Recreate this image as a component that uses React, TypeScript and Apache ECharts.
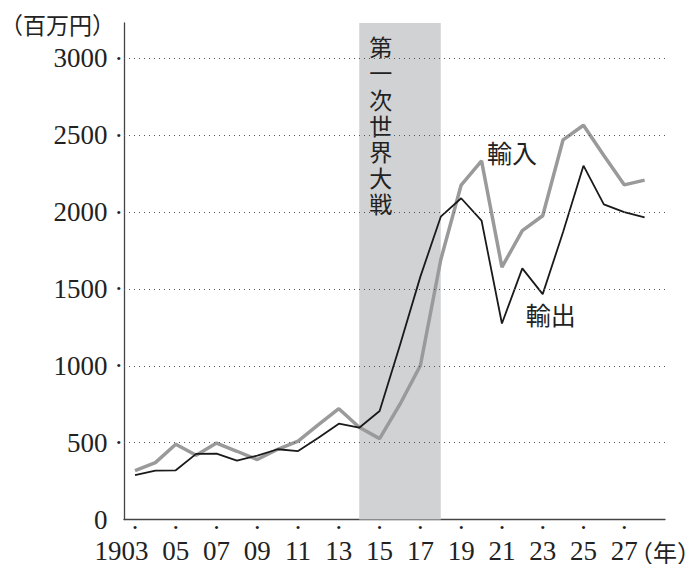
import { useEffect, useRef } from 'react';
import * as echarts from 'echarts';

const years = [1903, 1904, 1905, 1906, 1907, 1908, 1909, 1910, 1911, 1912, 1913, 1914, 1915, 1916, 1917, 1918, 1919, 1920, 1921, 1922, 1923, 1924, 1925, 1926, 1927, 1928];
const exportsVals = [288, 318, 320, 427, 428, 383, 416, 457, 445, 532, 623, 597, 706, 1135, 1580, 1970, 2090, 1945, 1275, 1634, 1466, 1870, 2302, 2050, 2000, 1966];
const importsVals = [318, 370, 490, 418, 497, 444, 390, 457, 510, 617, 721, 600, 526, 750, 1002, 1690, 2176, 2333, 1642, 1879, 1976, 2470, 2565, 2368, 2177, 2208];
const yTicks = [0, 500, 1000, 1500, 2000, 2500, 3000];
const xTicks = [1905, 1907, 1909, 1911, 1913, 1915, 1917, 1919, 1921, 1923, 1925, 1927];
const xFirstTick = [1903];
const warRange = [1914, 1918];
const warLabel = '第一次世界大戦';
const importsName = '輸入';
const exportsName = '輸出';
const yUnit = '（百万円）';
const xUnit = '（年）';

const NUM_FONT = "'Liberation Serif', 'Noto Sans CJK JP', serif";
const CJK_FONT = "'Noto Sans CJK JP', sans-serif";

const xRich = {
  d: { fontSize: 13, lineHeight: 10, color: '#222', fontFamily: NUM_FONT },
  n: { fontSize: 27, lineHeight: 36, color: '#222', fontFamily: NUM_FONT },
  f: { fontSize: 27, lineHeight: 36, color: '#222', fontFamily: NUM_FONT, padding: [0, 27, 0, 0] },
};

export default function App() {
  const ref = useRef<HTMLDivElement>(null);
  useEffect(() => {
    if (!ref.current) return;
    const chart = echarts.init(ref.current, null, { renderer: 'svg' });
    chart.setOption({
      animation: false,
      backgroundColor: '#ffffff',
      grid: { left: 124, right: 32, top: 23, bottom: 43, containLabel: false },
      xAxis: [
        {
          type: 'value',
          min: 1902.46,
          max: 1929,
          axisLine: { show: true, lineStyle: { color: '#444', width: 1.3 } },
          axisTick: { show: false },
          splitLine: { show: false },
          axisLabel: {
            customValues: xTicks,
            showMinLabel: true,
            showMaxLabel: true,
            margin: 3,
            formatter: (v: number) => `{d|•}\n{n|${String(v).slice(2)}}`,
            rich: xRich,
          },
        },
        {
          type: 'value',
          position: 'bottom',
          min: 1902.46,
          max: 1929,
          axisLine: { show: false },
          axisTick: { show: false },
          splitLine: { show: false },
          axisLabel: {
            customValues: xFirstTick,
            showMinLabel: true,
            showMaxLabel: true,
            margin: 3,
            formatter: (v: number) => `{d|•}\n{f|${v}}`,
            rich: xRich,
          },
        },
      ],
      yAxis: {
        type: 'value',
        min: 0,
        max: 3230,
        axisLine: { show: true, lineStyle: { color: '#444', width: 1.3 } },
        axisTick: { show: false },
        splitLine: { show: false },
        axisLabel: {
          customValues: yTicks,
          showMinLabel: true,
          margin: 3,
          formatter: (v: number) => (v === 0 ? `{n|0}{h|•}` : `{n|${v}}{d|•}`),
          rich: {
            n: { fontSize: 27, color: '#222', fontFamily: NUM_FONT },
            d: { fontSize: 13, color: '#222', fontFamily: NUM_FONT, padding: [0, 0, 0, 9] },
            h: { fontSize: 13, color: 'rgba(0,0,0,0)', fontFamily: NUM_FONT, padding: [0, 0, 0, 9] },
          },
        },
      },
      graphic: [
        {
          type: 'text',
          left: 0,
          top: 12,
          style: { text: yUnit, fontSize: 23, fill: '#222', fontFamily: CJK_FONT },
        },
        {
          type: 'text',
          x: 701,
          y: 551,
          style: { text: xUnit, fontSize: 24, fill: '#222', fontFamily: CJK_FONT, verticalAlign: 'middle', align: 'right' },
        },
      ],
      series: [
        {
          type: 'line',
          name: 'war',
          data: [],
          z: 1,
          silent: true,
          markArea: {
            silent: true,
            itemStyle: { color: '#d1d2d4' },
            label: {
              show: true,
              position: 'insideTopLeft',
              distance: 10,
              formatter: warLabel.split('').join('\n'),
              fontSize: 23,
              lineHeight: 26.2,
              color: '#222',
              fontFamily: CJK_FONT,
            },
            data: [[{ xAxis: warRange[0] }, { xAxis: warRange[1] }]],
          },
        },
        {
          type: 'line',
          name: 'grid',
          data: [],
          z: 2,
          silent: true,
          markLine: {
            silent: true,
            symbol: ['none', 'none'],
            label: { show: false },
            lineStyle: { type: [1, 4], color: '#555', width: 1 },
            data: yTicks.slice(1).map((v) => ({ yAxis: v })),
          },
        },
        {
          type: 'line',
          name: importsName,
          data: years.map((y, i) => [y, importsVals[i]]),
          symbol: 'none',
          z: 3,
          lineStyle: { color: '#9a9a9a', width: 3.5 },
          markPoint: {
            symbol: 'circle',
            symbolSize: 1,
            itemStyle: { color: 'rgba(0,0,0,0)' },
            label: { show: true, position: 'inside', formatter: importsName, fontSize: 25, color: '#222', fontFamily: CJK_FONT },
            data: [{ coord: [1921.5, 2390] }],
          },
        },
        {
          type: 'line',
          name: exportsName,
          data: years.map((y, i) => [y, exportsVals[i]]),
          symbol: 'none',
          z: 4,
          lineStyle: { color: '#1a1a1a', width: 1.8 },
          markPoint: {
            symbol: 'circle',
            symbolSize: 1,
            itemStyle: { color: 'rgba(0,0,0,0)' },
            label: { show: true, position: 'inside', formatter: exportsName, fontSize: 25, color: '#222', fontFamily: CJK_FONT },
            data: [{ coord: [1923.4, 1340] }],
          },
        },
      ],
    });
    return () => chart.dispose();
  }, []);
  return <div ref={ref} style={{ position: 'absolute', left: 0, top: 0, width: 697, height: 564 }} />;
}
